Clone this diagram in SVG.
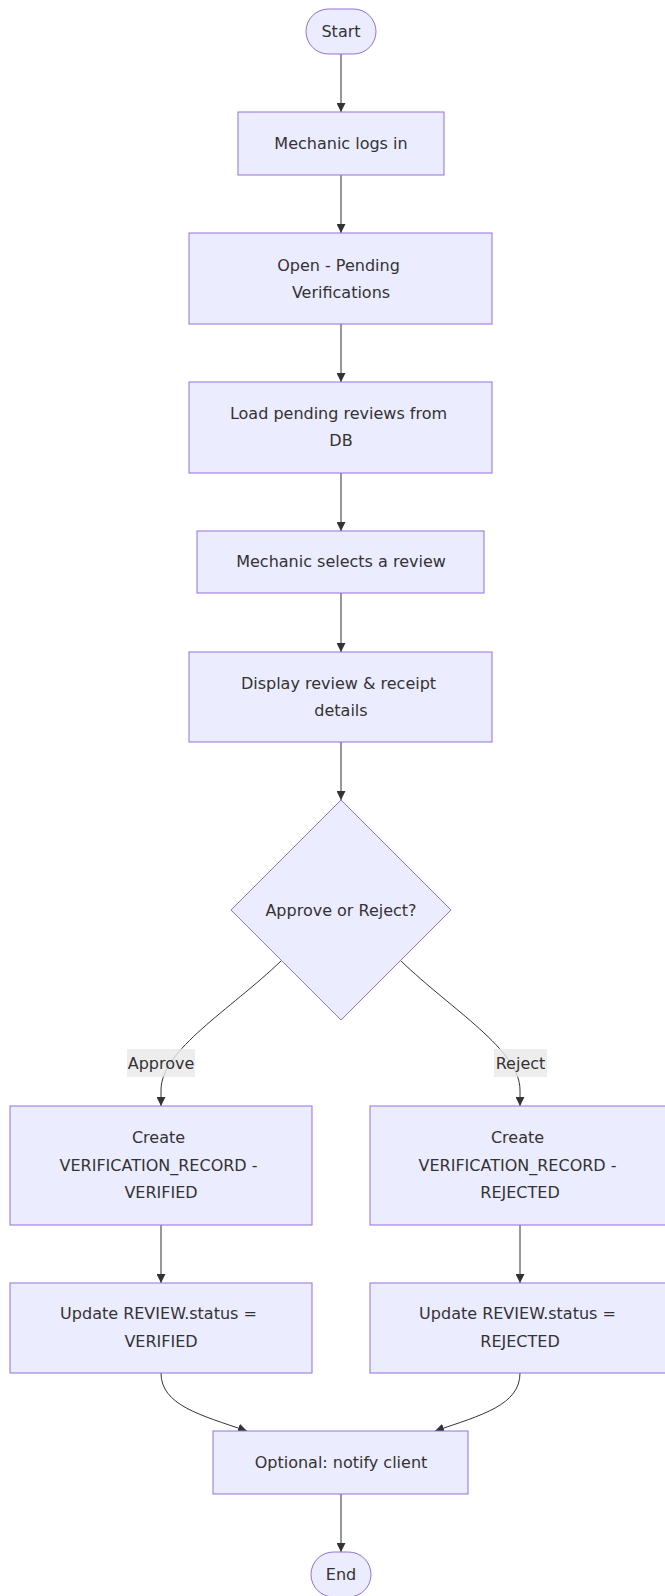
<svg xmlns="http://www.w3.org/2000/svg" width="665" height="1596" viewBox="0 0 665 1596">
  <style>
    .node { fill: #ECECFF; stroke: #9370DB; stroke-width: 1px; }
    .lbl { font-family: "DejaVu Sans", Verdana, sans-serif; font-size: 16px; fill: #333333; text-anchor: middle; }
    .edge { fill: none; stroke: #333333; stroke-width: 1px; marker-end: url(#arrow); }
    .edge-bg { fill: rgba(232,232,232,0.8); }
  </style>
  <defs>
    <marker id="arrow" viewBox="0 0 10 10" refX="10" refY="5" markerWidth="9" markerHeight="9" markerUnits="userSpaceOnUse" orient="auto">
      <path d="M0,0 L10,5 L0,10 z" fill="#333333"/>
    </marker>
  </defs>
  <rect width="665" height="1596" fill="#ffffff"/>

  <!-- connectors -->
  <g id="edges">
    <path class="edge" d="M341,54 L341,112"/>
    <path class="edge" d="M341,175 L341,233"/>
    <path class="edge" d="M341,324 L341,382"/>
    <path class="edge" d="M341,473 L341,531"/>
    <path class="edge" d="M341,593 L341,652"/>
    <path class="edge" d="M341,742 L341,800"/>
    <path class="edge" d="M281,961 C230,1010 161,1050 161,1090 L161,1106"/>
    <path class="edge" d="M401,961 C452,1010 520,1050 520,1090 L520,1106"/>
    <path class="edge" d="M161,1225 L161,1283"/>
    <path class="edge" d="M520,1225 L520,1283"/>
    <path class="edge" d="M161,1373 C161,1405 200,1415 247,1431"/>
    <path class="edge" d="M520,1373 C520,1405 482,1415 435,1431"/>
    <path class="edge" d="M341,1494 L341,1552"/>
    <g id="edge-label-approve">
      <rect class="edge-bg" x="127" y="1049" width="68" height="28"/>
      <text class="lbl" x="161" y="1068.5">Approve</text>
    </g>
    <g id="edge-label-reject">
      <rect class="edge-bg" x="494" y="1049" width="53" height="28"/>
      <text class="lbl" x="520.5" y="1068.5">Reject</text>
    </g>
  </g>

  <!-- nodes -->
  <g id="start">
    <rect class="node" x="306" y="9" width="70" height="45" rx="22.5" ry="22.5"/>
    <text class="lbl" x="341" y="37">Start</text>
  </g>
  <g id="login">
    <rect class="node" x="238" y="112" width="206" height="63"/>
    <text class="lbl" x="341" y="149">Mechanic logs in</text>
  </g>
  <g id="open-pending">
    <rect class="node" x="189" y="233" width="303" height="91"/>
    <text class="lbl" x="338.5" y="270.5">Open - Pending</text>
    <text class="lbl" x="341" y="298">Verifications</text>
  </g>
  <g id="load-reviews">
    <rect class="node" x="189" y="382" width="303" height="91"/>
    <text class="lbl" x="338.5" y="419">Load pending reviews from</text>
    <text class="lbl" x="341" y="446">DB</text>
  </g>
  <g id="select-review">
    <rect class="node" x="197" y="531" width="287" height="62"/>
    <text class="lbl" x="341" y="567">Mechanic selects a review</text>
  </g>
  <g id="display-details">
    <rect class="node" x="189" y="652" width="303" height="90"/>
    <text class="lbl" x="338.5" y="689">Display review &amp; receipt</text>
    <text class="lbl" x="341" y="716">details</text>
  </g>
  <g id="decision">
    <polygon class="node" points="341,800 451,910 341,1020 231,910"/>
    <text class="lbl" x="341" y="915.5">Approve or Reject?</text>
  </g>
  <g id="create-verified">
    <rect class="node" x="10" y="1106" width="302" height="119"/>
    <text class="lbl" x="158.5" y="1142.5">Create</text>
    <text class="lbl" x="158.5" y="1170.5">VERIFICATION_RECORD -</text>
    <text class="lbl" x="161" y="1198">VERIFIED</text>
  </g>
  <g id="create-rejected">
    <rect class="node" x="370" y="1106" width="302" height="119"/>
    <text class="lbl" x="517.5" y="1142.5">Create</text>
    <text class="lbl" x="517.5" y="1170.5">VERIFICATION_RECORD -</text>
    <text class="lbl" x="520" y="1198">REJECTED</text>
  </g>
  <g id="update-verified">
    <rect class="node" x="10" y="1283" width="302" height="90"/>
    <text class="lbl" x="158.5" y="1319">Update REVIEW.status =</text>
    <text class="lbl" x="161" y="1347">VERIFIED</text>
  </g>
  <g id="update-rejected">
    <rect class="node" x="370" y="1283" width="302" height="90"/>
    <text class="lbl" x="517.5" y="1319">Update REVIEW.status =</text>
    <text class="lbl" x="520" y="1347">REJECTED</text>
  </g>
  <g id="notify">
    <rect class="node" x="213" y="1431" width="255" height="63"/>
    <text class="lbl" x="341" y="1468">Optional: notify client</text>
  </g>
  <g id="end">
    <rect class="node" x="311" y="1552" width="60" height="45" rx="22.5" ry="22.5"/>
    <text class="lbl" x="341" y="1580">End</text>
  </g>
</svg>
